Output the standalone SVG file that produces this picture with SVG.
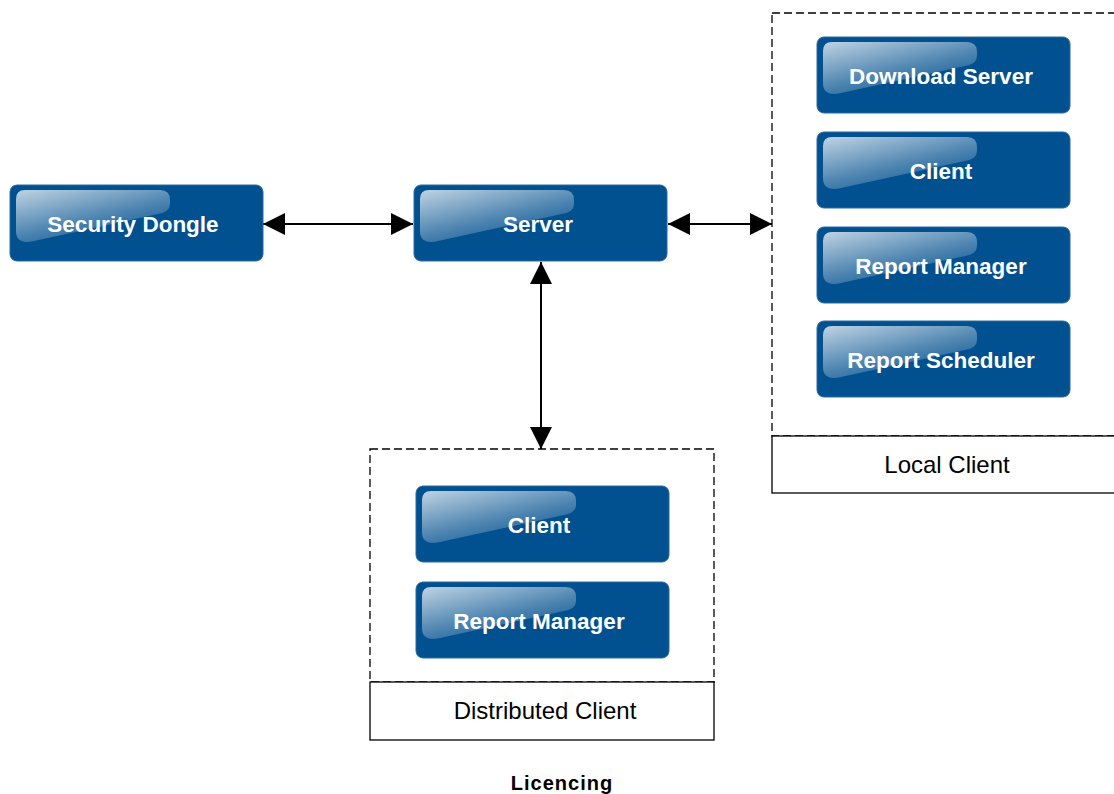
<svg xmlns="http://www.w3.org/2000/svg" width="1114" height="794" viewBox="0 0 1114 794">
<style>
.box{fill:#01508f;stroke:#2b6aa1;stroke-width:1}
.lbl{font-family:"Liberation Sans",Arial,sans-serif;font-weight:bold;font-size:22.5px;fill:#ffffff;text-anchor:middle}
.cap{font-family:"Liberation Sans",Arial,sans-serif;font-size:24px;fill:#000000;text-anchor:middle}
.dash{fill:none;stroke:#000;stroke-width:1.3;stroke-dasharray:8 4}
.sol{fill:#fff;stroke:#000;stroke-width:1.3}
.conn{stroke:#000;stroke-width:2;fill:none;marker-start:url(#ah);marker-end:url(#ah)}
</style>
<defs>
<marker id="ah" markerUnits="userSpaceOnUse" markerWidth="24" markerHeight="24" refX="22" refY="11" orient="auto-start-reverse" viewBox="0 0 24 24">
<path d="M0,0 L22,11 L0,22 Z" fill="#000"/>
</marker>
<linearGradient id="gl" x1="0" y1="0" x2="0.7" y2="1">
<stop offset="0" stop-color="#ffffff" stop-opacity="0.75"/>
<stop offset="0.6" stop-color="#ffffff" stop-opacity="0.3"/>
<stop offset="1" stop-color="#ffffff" stop-opacity="0.05"/>
</linearGradient>
<g id="btn">
<rect class="box" x="0" y="0" width="253" height="76" rx="7" ry="7"/>
<path d="M6,14 Q6,5 15,5 L150,5 Q160,5 160,15 L160,19 Q160,27 148,29 L24,56 Q6,60 6,46 Z" fill="url(#gl)"/>
</g>
</defs>
<rect width="1114" height="794" fill="#ffffff"/>

<g id="local-client">
<rect class="dash" x="772" y="13" width="350" height="423"/>
<rect class="sol" x="772" y="436" width="350" height="57"/>
<text class="cap" x="947" y="473">Local Client</text>
</g>
<g id="distributed-client">
<rect class="dash" x="370" y="449" width="344" height="233"/>
<rect class="sol" x="370" y="682" width="344" height="58"/>
<text class="cap" x="545" y="719">Distributed Client</text>
</g>

<g id="connectors">
<line class="conn" x1="263" y1="224" x2="413" y2="224"/>
<line class="conn" x1="668" y1="224" x2="772" y2="224"/>
<line class="conn" x1="541" y1="262" x2="541" y2="449"/>
</g>

<g id="security-dongle"><use href="#btn" x="10" y="185"/><text class="lbl" x="133" y="232">Security Dongle</text></g>
<g id="server"><use href="#btn" x="414" y="185"/><text class="lbl" x="538" y="232">Server</text></g>
<g id="download-server"><use href="#btn" x="817" y="37"/><text class="lbl" x="941" y="84">Download Server</text></g>
<g id="local-client-client"><use href="#btn" x="817" y="132"/><text class="lbl" x="941" y="179">Client</text></g>
<g id="local-report-manager"><use href="#btn" x="817" y="227"/><text class="lbl" x="941" y="274">Report Manager</text></g>
<g id="report-scheduler"><use href="#btn" x="817" y="321"/><text class="lbl" x="941" y="368">Report Scheduler</text></g>
<g id="dist-client"><use href="#btn" x="416" y="486"/><text class="lbl" x="539" y="533">Client</text></g>
<g id="dist-report-manager"><use href="#btn" x="416" y="582"/><text class="lbl" x="539" y="629">Report Manager</text></g>

<text x="562" y="790" font-family="Liberation Sans,Arial,sans-serif" font-weight="bold" font-size="20" letter-spacing="1" text-anchor="middle">Licencing</text>
</svg>
